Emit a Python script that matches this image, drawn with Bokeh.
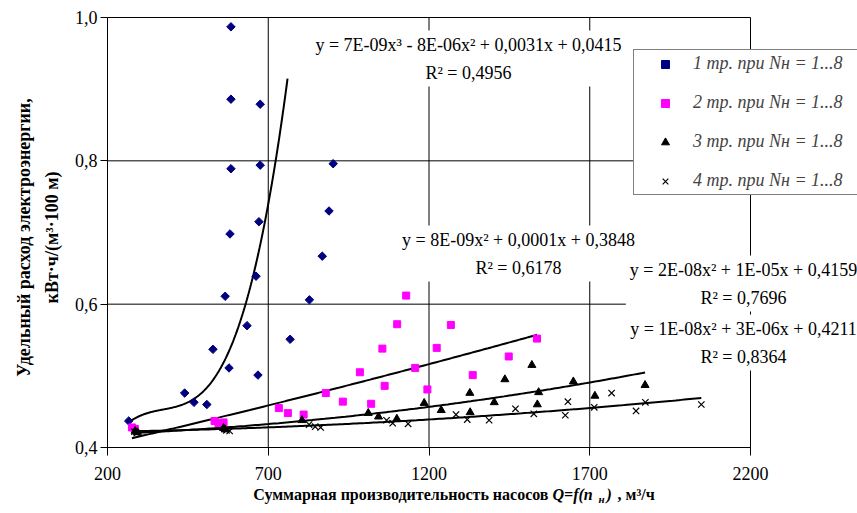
import numpy as np
from bokeh.plotting import figure
from bokeh.models import Range1d, FixedTicker, Label, Legend, LegendItem
from bokeh.embed import file_html
from bokeh.resources import INLINE

# Total pump flow Q, m3/h, and specific energy use, kWh/(m3*100 m)
q1 = [266, 440, 469, 509, 528, 566, 578, 581, 584, 584, 584, 634, 662, 668, 671, 675, 675,
      768, 828, 868, 889, 902]
e1 = [0.437, 0.476, 0.463, 0.460, 0.537, 0.611, 0.511, 0.698, 0.789, 0.886, 0.987, 0.570,
      0.639, 0.501, 0.715, 0.794, 0.879, 0.551, 0.606, 0.667, 0.730, 0.796]

q2 = [276, 285, 533, 545, 561, 733, 761, 810, 879, 932, 985, 1020, 1055, 1062, 1101, 1129,
      1157, 1195, 1224, 1268, 1336, 1448, 1536]
e2 = [0.428, 0.426, 0.437, 0.434, 0.435, 0.455, 0.448, 0.446, 0.476, 0.464, 0.505, 0.461,
      0.538, 0.486, 0.572, 0.612, 0.511, 0.481, 0.539, 0.571, 0.501, 0.527, 0.552]

q3 = [286, 293, 561, 566, 805, 1011, 1043, 1100, 1185, 1238, 1327, 1328, 1403, 1436, 1520,
      1537, 1541, 1649, 1716, 1872]
e3 = [0.423, 0.421, 0.427, 0.425, 0.438, 0.448, 0.443, 0.440, 0.462, 0.452, 0.476, 0.449,
      0.463, 0.495, 0.515, 0.460, 0.477, 0.492, 0.472, 0.487]

q4 = [284, 291, 570, 580, 827, 846, 863, 1068, 1087, 1135, 1284, 1319, 1387, 1469, 1526,
      1624, 1632, 1714, 1768, 1844, 1873, 2047]
e4 = [0.422, 0.420, 0.424, 0.423, 0.432, 0.429, 0.428, 0.438, 0.434, 0.433, 0.446, 0.439,
      0.438, 0.454, 0.447, 0.445, 0.464, 0.456, 0.476, 0.451, 0.463, 0.460]

series_names = ["1 тр. при Nн = 1...8", "2 тр. при Nн = 1...8",
                "3 тр. при Nн = 1...8", "4 тр. при Nн = 1...8"]

# Polynomial trend lines (highest power first)
trend1_coef = [7.35e-9, -8.21e-6, 0.003143, 0.0415]
trend2_coef = [8e-9, 0.0001, 0.3848]
trend3_coef = [2e-8, 1e-5, 0.4159]
trend4_coef = [1e-8, 3e-6, 0.4211]
trend1_q_end = 760

eq_texts = [
    "y = 7E-09x³ - 8E-06x² + 0,0031x + 0,0415\nR² = 0,4956",
    "y = 8E-09x² + 0,0001x + 0,3848\nR² = 0,6178",
    "y = 2E-08x² + 1E-05x + 0,4159\nR² = 0,7696",
    "y = 1E-08x² + 3E-06x + 0,4211\nR² = 0,8364",
]

x_ticks = [200, 700, 1200, 1700, 2200]
y_ticks = [0.4, 0.6, 0.8, 1.0]
y_tick_labels = ["0,4", "0,6", "0,8", "1,0"]

X_MIN, X_MAX = 200, 2200
Y_MIN, Y_MAX = 0.4, 1.0

W, H = 857, 513
LEFT, RIGHT, TOP, BOTTOM = 107, 750, 17, 447  # plotting area in pixels
FONT = "Liberation Serif"


def to_x(px):
    return X_MIN + (px - LEFT) * (X_MAX - X_MIN) / (RIGHT - LEFT)


def to_y(py):
    return Y_MIN + (BOTTOM - py) * (Y_MAX - Y_MIN) / (BOTTOM - TOP)


# The frame fills the whole canvas; axes sit at fixed data locations so that
# titles, equations and the legend can be placed anywhere on the page.
p = figure(width=W, height=H,
           x_range=Range1d(to_x(0), to_x(W)), y_range=Range1d(to_y(H), to_y(0)),
           output_backend="svg", toolbar_location=None,
           min_border_left=0, min_border_right=0, min_border_top=0, min_border_bottom=0)
p.background_fill_color = "white"
p.border_fill_color = "white"
p.outline_line_color = None
p.xgrid.visible = False
p.ygrid.visible = False

for ax in (p.xaxis[0], p.yaxis[0]):
    ax.axis_line_color = "black"
    ax.major_tick_line_color = "black"
    ax.minor_tick_line_color = None
    ax.major_tick_in = 0
    ax.major_label_text_font = FONT
    ax.major_label_text_font_size = "18px"
    ax.major_label_text_color = "black"

p.xaxis.fixed_location = Y_MIN
p.xaxis.bounds = (X_MIN, X_MAX)
p.xaxis.ticker = FixedTicker(ticks=x_ticks)
p.xaxis.major_tick_out = 8
p.xaxis.major_label_standoff = 11

p.yaxis.fixed_location = X_MIN
p.yaxis.bounds = (Y_MIN, Y_MAX)
p.yaxis.ticker = FixedTicker(ticks=y_ticks)
p.yaxis.major_tick_out = 7
p.yaxis.major_label_standoff = 3
p.yaxis.major_label_overrides = dict(zip(y_ticks, y_tick_labels))

# grid lines and the plot-area border
p.segment(x0=x_ticks, y0=[Y_MIN] * len(x_ticks), x1=x_ticks, y1=[Y_MAX] * len(x_ticks),
          line_color="black", line_width=1)
p.segment(x0=[X_MIN] * len(y_ticks), y0=y_ticks, x1=[X_MAX] * len(y_ticks), y1=y_ticks,
          line_color="black", line_width=1)

# trend lines
t1 = np.linspace(min(q1), trend1_q_end, 200)
p.line(t1, np.polyval(trend1_coef, t1), line_color="black", line_width=2)
for qs, coef in ((q2, trend2_coef), (q3, trend3_coef), (q4, trend4_coef)):
    t = np.linspace(min(qs), max(qs), 200)
    p.line(t, np.polyval(coef, t), line_color="black", line_width=2)

# measured points
r1 = p.scatter(q1, e1, marker="square", angle=np.pi / 4, size=6,
               fill_color="#000080", line_color="#000080")
r2 = p.scatter(q2, e2, marker="square", size=7, fill_color="#FF00FF", line_color="#FF00FF")
r3 = p.scatter(q3, e3, marker="triangle", size=8, fill_color="black", line_color="black")
r4 = p.scatter(q4, e4, marker="x", size=9, line_color="black", line_width=1.2)

legend = Legend(items=[LegendItem(label=n, renderers=[r]) for n, r in zip(series_names, [r1, r2, r3, r4])],
                location=(633, H - 195), orientation="vertical",
                padding=3, margin=0, spacing=18, glyph_width=56, glyph_height=20,
                label_height=20, label_width=161, label_standoff=0,
                label_text_font=FONT, label_text_font_size="18px", label_text_font_style="italic",
                border_line_color="black", border_line_width=1,
                background_fill_color="white", background_fill_alpha=1)
p.add_layout(legend)


def add_label(text, px, py, size="18px", style="normal", align="center", angle=0.0,
              bg=None, pad=0, line_height=1.2):
    lbl = Label(x=to_x(px), y=to_y(py), text=text, text_font=FONT, text_font_size=size,
                text_font_style=style, text_align=align, text_baseline="middle",
                text_color="black", angle=angle, text_line_height=line_height)
    if bg is not None:
        lbl.background_fill_color = bg
        lbl.background_fill_alpha = 1
        lbl.padding = pad
    p.add_layout(lbl)


# trend equations on white boxes
eq_pos = [(468, 58), (518, 253), (743, 283), (743, 342)]
for txt, (ex, ey) in zip(eq_texts, eq_pos):
    add_label(txt, ex, ey, bg="white", pad=4, line_height=1.4)

# y axis title, two rotated lines
add_label("Удельный расход электроэнергии,", 23, 237, size="18px", style="bold", angle=np.pi / 2)
add_label("кВт·ч/(м³·100 м)", 51, 237, size="18px", style="bold", angle=np.pi / 2)

# x axis title with italic function part
add_label("Суммарная производительность насосов", 548, 494, size="16px", style="bold", align="right")
add_label("Q=f(n", 552, 494, size="16px", style="bold italic", align="left")
add_label("н", 598, 498, size="11px", style="bold italic", align="left")
add_label(")", 606, 494, size="16px", style="bold italic", align="left")
add_label(", м³/ч", 617, 494, size="16px", style="bold", align="left")

open("out.html", "w").write(file_html(p, INLINE))
